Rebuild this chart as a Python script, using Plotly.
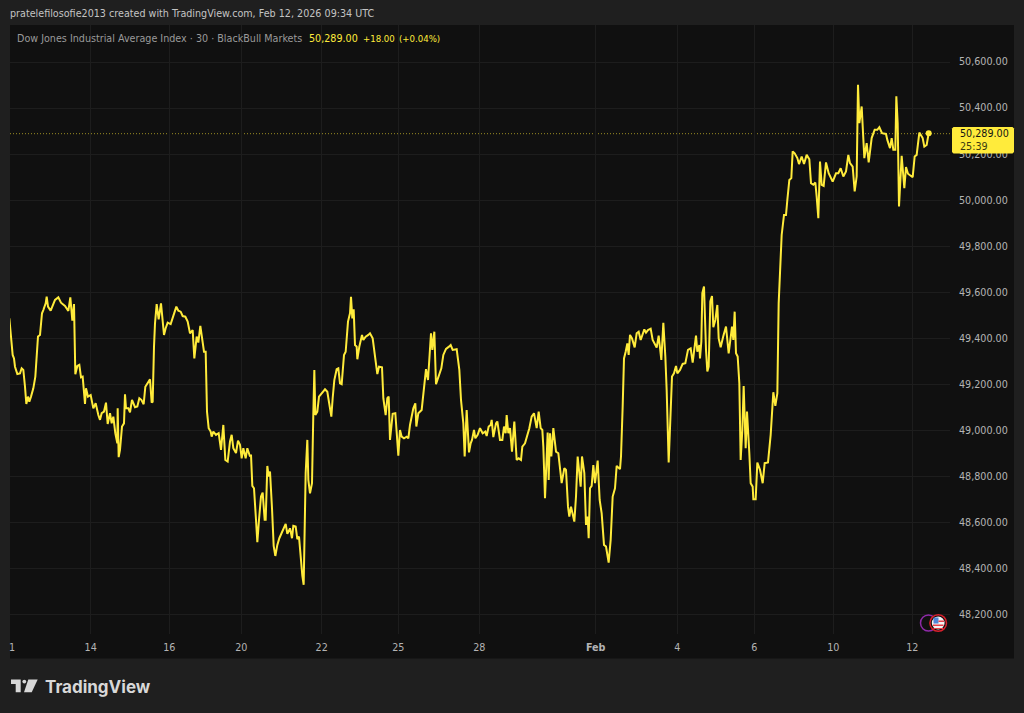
import plotly.graph_objects as go

# Time position (arbitrary bar units) and price in four stretches
t_jan_a = [28,34,38,42,45,52,60,65,70,75,79,84,88,93,100,106,109,114,120,126,130,137,140,144,152,158,165,175,183,195,205,211,217,222,226,232,238,243,248,255,258,264,272,280,287,295,300,305,312,318,323,330,335,340,346,352,353,356,360,366,372,375,378,385,390,396,405,412,418,424,431,436,445,450,455,458,462,465,470,476,483,492,497,503,512,520,529,535,542,548,556,563,570,578,583,590,595,601,607,612,617,621,626,632,635,640,648,656,663,670,676,683,690,695,700,708,714,720,725,730,737,742,750,753,757,762,768,772,777,783,788,794,797,802,806,810,816,821,826,832,838,845,852,857,862,870,876,880,887,892,897,903,907,911,914,917,922,925,930,936,940,943,946,952,957,965,975,982,990]
p_jan_a = [49487,49408,49328,49313,49277,49245,49248,49270,49263,49190,49115,49147,49125,49147,49183,49234,49313,49408,49415,49509,49523,49552,49581,49538,49520,49545,49567,49578,49555,49541,49519,49578,49477,49549,49244,49280,49285,49231,49234,49115,49183,49147,49154,49096,49118,49067,49046,49075,49082,49121,49028,49075,49031,49060,48988,48944,49096,48884,48916,49017,49031,49157,49096,49096,49079,49133,49101,49104,49140,49133,49114,49190,49208,49222,49121,49125,49364,49465,49549,49483,49552,49415,49444,49468,49462,49502,49538,49520,49516,49497,49494,49473,49422,49436,49313,49408,49382,49454,49393,49342,49342,49082,49010,48995,48973,48995,48981,48988,48916,49024,48872,48865,48952,48981,48923,48902,48956,48938,48879,48923,48879,48923,48887,48895,48759,48749,48612,48515,48612,48713,48730,48612,48612,48846,48800,48822,48662,48499,48455,48503,48532,48554,48575,48594,48551,48575,48532,48586,48583,48528,48539,48409,48369,48330,48641,48815,48959,48785,48727,48771,49075,49263,49067,49082,49147,49161,49179,49168,49086]

t_jan_b = [994,998,1003,1010,1015,1020,1025,1032,1037,1044,1050,1053,1057,1061,1065,1070,1072,1078,1086,1090,1097,1105,1110,1118,1125,1132,1137,1146,1150,1157,1162,1166,1170,1178,1186,1191,1195,1200,1205,1212,1220,1225,1230,1240,1246,1249,1255,1265,1270,1278,1284,1290,1293,1297,1303,1308,1315,1324,1330,1338,1347,1352,1358,1370,1378,1383,1390,1394,1400,1407,1412,1416,1422,1426,1433,1440,1448,1456,1460,1466,1472,1475,1480,1488,1492,1500,1507,1512,1517,1520,1525,1530,1536,1543,1550,1556,1563,1567,1575,1588,1595,1602,1610,1616,1622,1627,1630,1635,1643,1646,1650,1654,1660,1668,1675,1685,1693,1698,1704,1708,1713,1718,1723,1728,1733,1742,1746,1753,1758,1763,1766,1770,1775,1780,1785,1793,1799,1805,1812,1818,1826,1832,1838,1845,1850,1860,1863,1868,1872,1877,1882,1886,1890]
p_jan_b = [49060,49140,49219,49266,49270,49205,49201,49328,49342,49473,49509,49581,49487,49526,49371,49364,49309,49364,49415,49393,49407,49415,49422,49400,49321,49245,49277,49274,49140,49067,49140,49147,48959,49072,49075,48981,48891,49002,48973,48966,48973,48966,49024,49096,49118,49017,49075,49089,49161,49266,49219,49357,49422,49350,49429,49201,49234,49270,49328,49354,49364,49371,49350,49353,49263,49133,49031,48887,49089,48905,48944,48959,49002,48966,48981,49010,48988,48995,48976,49017,49024,49046,48971,49031,49039,48959,48959,49017,48988,49067,48988,49010,48908,49039,48872,48879,48872,48930,48944,49010,49060,49075,49010,49082,49010,49002,48930,48706,48991,48785,48988,48887,49010,48908,48901,48771,48836,48829,48669,48626,48669,48640,48604,48713,48887,48756,48887,48815,48590,48626,48532,48749,48759,48850,48771,48869,48698,48640,48503,48496,48426,48525,48713,48749,48846,48832,48887,49104,49313,49342,49378,49328,49415]

t_feb_a = [1896,1904,1910,1916,1922,1928,1933,1938,1944,1952,1958,1970,1976,1984,1990,1996,2000,2006,2012,2016,2022,2028,2032,2040,2048,2056,2064,2072,2078,2084,2088,2092,2098,2100,2104,2107,2112,2118,2122,2126,2131,2136,2140,2146,2152,2156,2162,2170,2178,2186,2196,2200,2204,2208,2213,2218,2222,2227,2231,2237,2241,2248,2252,2258,2260,2267,2272,2280,2288,2294,2304,2312,2320,2326,2332,2336,2340]
p_feb_a = [49400,49361,49422,49429,49393,49422,49439,49425,49436,49442,49393,49360,49412,49306,49468,49321,49176,48861,49060,49234,49248,49280,49248,49263,49289,49292,49350,49357,49295,49371,49412,49342,49371,49313,49386,49596,49625,49350,49256,49277,49560,49584,49448,49480,49545,49400,49361,49410,49451,49335,49451,49393,49516,49335,49321,49205,48872,49002,49193,48923,49082,48901,48771,48756,48701,48701,48861,48829,48771,48858,48861,48981,49166,49107,49161,49552,49697]

t_feb_b = [2345,2352,2358,2362,2368,2374,2378,2384,2392,2397,2405,2412,2420,2428,2433,2440,2446,2450,2455,2460,2465,2471,2478,2486,2498,2508,2515,2522,2530,2538,2545,2550,2558,2564,2570,2574,2578,2585,2588,2593,2600,2606,2615,2624,2632,2638,2646,2658,2662,2670,2675,2680,2686,2689,2693,2697,2705,2713,2718,2724,2738,2744,2750,2758,2768,2773,2780,2786]
p_feb_b = [49849,49936,49936,50001,50088,50096,50212,50204,50183,50157,50190,50157,50197,50178,50074,50067,50077,50016,49922,50168,50067,50062,50164,50117,50081,50117,50117,50139,50103,50125,50197,50161,50146,50038,50103,50501,50335,50407,50328,50183,50248,50164,50270,50306,50306,50317,50291,50288,50262,50226,50270,50219,50219,50451,50335,49973,50193,50052,50144,50115,50100,50190,50197,50294,50270,50233,50240,50291]

last_time = [2786]
last_price = [50291]
quote_price = 50289

price_ticks = [48200,48400,48600,48800,49000,49200,49400,49600,49800,50000,50200,50400,50600]
price_labels = ["48,200.00","48,400.00","48,600.00","48,800.00","49,000.00","49,200.00","49,400.00","49,600.00","49,800.00","50,000.00","50,200.00","50,400.00","50,600.00"]
date_ticks = [272,508,724,965,1195,1438,1787,2032,2263,2500,2737]
date_labels = ["14","16","20","22","25","28","<b>Feb</b>","4","6","10","12"]

W, H = 1024, 713
L, R, T, B = 10, 950, 25, 634
FONT = "DejaVu Sans"
YEL = "#ffeb3b"

def px(x):
    return (x - L) / (R - L)
def py(y):
    return (B - y) / (B - T)

def rect(x0, y0, x1, y1, fill, layer="above", line=None):
    return dict(type="rect", xref="paper", yref="paper", x0=px(x0), x1=px(x1), y0=py(y0), y1=py(y1),
                fillcolor=fill, line=dict(width=0) if line is None else line, layer=layer)

def circle(cx, cy, r, fill, line):
    return dict(type="circle", xref="paper", yref="paper", x0=px(cx-r), x1=px(cx+r), y0=py(cy-r), y1=py(cy+r),
                fillcolor=fill, line=line, layer="above")

def poly(points, fill):
    d = "M " + " L ".join(f"{px(a):.5f},{py(b):.5f}" for a, b in points) + " Z"
    return dict(type="path", xref="paper", yref="paper", path=d, fillcolor=fill, line=dict(width=0), layer="above")

def note(x, y, text, color, size=9.6, anchor="left", family=FONT):
    return dict(xref="paper", yref="paper", x=px(x), y=py(y), text=text, showarrow=False, xanchor=anchor,
                yanchor="middle", align="left", font=dict(family=family, size=size, color=color), borderpad=0)

times = t_jan_a + t_jan_b + t_feb_a + t_feb_b
prices = p_jan_a + p_jan_b + p_feb_a + p_feb_b

fig = go.Figure()
fig.add_trace(go.Scatter(x=times, y=prices, mode="lines", line=dict(color=YEL, width=2), hoverinfo="skip", showlegend=False))
fig.add_trace(go.Scatter(x=last_time, y=last_price, mode="markers", marker=dict(color=YEL, size=6), hoverinfo="skip", showlegend=False))

shapes = [
    rect(10, 25, 1014, 658.5, "#101010", layer="below"),
    dict(type="line", xref="paper", yref="y", x0=0, x1=1, y0=quote_price, y1=quote_price,
         line=dict(color="#9a8d24", width=1, dash="1px,2px"), layer="below"),
    poly([(953.5,127),(1012.5,127),(1014,128.5),(1014,152),(1012.5,153.5),(953.5,153.5),(952,152),(952,128.5)], YEL),
    # TradingView logo
    poly([(11,679.5),(20.7,679.5),(20.7,692.3),(15.7,692.3),(15.7,684),(11,684)], "#d8d8d8"),
    circle(24.3, 681.6, 1.9, "#d8d8d8", dict(width=0)),
    poly([(28.3,679.5),(37.7,679.5),(31.7,692.3),(24,692.3)], "#d8d8d8"),
    # event badges
    circle(928.5, 623, 8, "#101010", dict(color="#8e2aa8", width=1.5)),
    circle(938.2, 623, 8.3, "#101010", dict(color="#d8202c", width=1.5)),
    circle(938.2, 623, 6.4, "#f2f2f2", dict(width=0)),
    rect(933, 624.5, 943.5, 626, "#e8414a"),
    rect(933.5, 628, 943, 629, "#e8414a"),
    rect(933.5, 617.5, 938.5, 623.5, "#4f86d8"),
    rect(938.5, 620.5, 944, 622, "#e8414a"),
]

annotations = [
    note(9, 14, "pratelefilosofie2013 created with TradingView.com, Feb 12, 2026 09:34 UTC", "#c4c4c4"),
    note(16, 38.5, "Dow Jones Industrial Average Index · 30 · BlackBull Markets", "#9a9a9a"),
    note(308, 38.5, "50,289.00", YEL),
    note(362, 38.5, "+18.00", YEL, size=8.6),
    note(397.5, 38.5, "(+0.04%)", YEL, size=8.6),
    note(959, 133.5, "50,289.00", "#131313", size=9.6),
    note(959, 146, "25:39", "#3a3a10", size=9.6),
    note(8, 647, "1", "#b4b4b4"),
    note(43.5, 686.5, "<b>TradingView</b>", "#d8d8d8", size=17, family="Inter"),
]

fig.update_layout(
    width=W, height=H, autosize=False,
    paper_bgcolor="#1f1f1f", plot_bgcolor="#101010",
    margin=dict(l=L, r=W-R, t=T, b=H-B, pad=0),
    showlegend=False, shapes=shapes, annotations=annotations,
    font=dict(family=FONT, size=9.6, color="#b4b4b4"),
    xaxis=dict(range=[30, 2850], tickmode="array", tickvals=date_ticks, ticktext=date_labels,
               showgrid=True, gridcolor="#1d1d1d", gridwidth=1, zeroline=False, showline=False, ticks="",
               ticklabelstandoff=6, tickfont=dict(family=FONT, size=9.6, color="#b4b4b4")),
    yaxis=dict(range=[48116, 50761], side="right", tickmode="array", tickvals=price_ticks, ticktext=price_labels,
               showgrid=True, gridcolor="#1d1d1d", gridwidth=1, zeroline=False, showline=False, ticks="",
               ticklabelstandoff=8, tickfont=dict(family=FONT, size=9.6, color="#b4b4b4")),
)

fig.write_html("out.html", config=dict(displayModeBar=False),
               post_script="document.body.style.margin='0';document.body.style.background='#1f1f1f';")
